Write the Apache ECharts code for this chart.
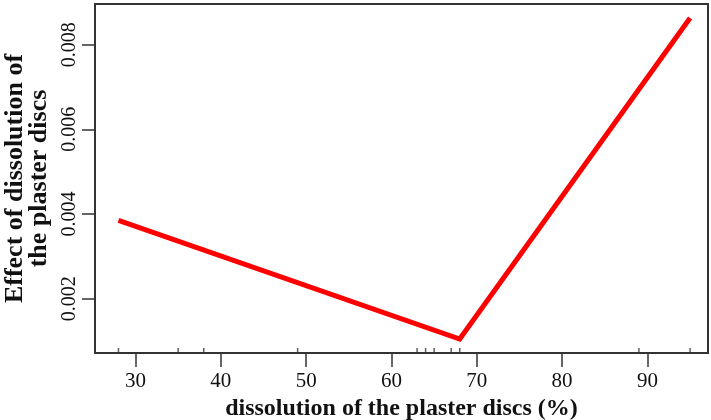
<!DOCTYPE html>
<html>
<head>
<meta charset="utf-8">
<script src="https://cdn.jsdelivr.net/npm/echarts@6/dist/echarts.min.js"></script>
<style>
  html, body { margin: 0; padding: 0; background: #fff; }
  #chart { width: 711px; height: 420px; }
</style>
</head>
<body>
<div id="chart"></div>
<script>
// fitted segmented line (x = dissolution %, y = effect)
const lineX = [28, 68, 95];
const lineY = [0.00385, 0.00105, 0.00863];
// observed x values shown as a rug along the bottom axis
const rugX = [28, 35, 38, 49, 63, 64, 65, 67, 68, 89, 95];
const xTicks = [30, 40, 50, 60, 70, 80, 90];
const yTicks = [0.002, 0.004, 0.006, 0.008];

const X_MIN = 25.25, X_MAX = 97.1;
const Y_MIN = 0.00072, Y_MAX = 0.00896;

const serif = "Liberation Serif";
const axisColor = "#333";

const chart = echarts.init(document.getElementById("chart"));

const option = {
  animation: false,
  backgroundColor: "#fff",
  grid: {
    left: 95, right: 3, top: 4, bottom: 67,
    outerBoundsMode: "none",
    containLabel: false,
    show: true, borderColor: axisColor, borderWidth: 2
  },
  xAxis: {
    type: "value",
    min: X_MIN, max: X_MAX,
    name: "dissolution of the plaster discs (%)",
    nameLocation: "middle",
    nameGap: 43,
    nameTextStyle: { fontFamily: serif, fontWeight: "bold", fontSize: 24, color: "#111" },
    axisLine: { show: true, lineStyle: { color: axisColor, width: 2 } },
    axisTick: { show: true, length: 14, customValues: xTicks, lineStyle: { color: axisColor, width: 1.5 } },
    axisLabel: { customValues: xTicks, margin: 18, fontFamily: serif, fontSize: 21, color: "#111" },
    splitLine: { show: false }
  },
  yAxis: {
    type: "value",
    min: Y_MIN, max: Y_MAX,
    name: "Effect of dissolution of\nthe plaster discs",
    nameLocation: "middle",
    nameGap: 44,
    nameTextStyle: { fontFamily: serif, fontWeight: "bold", fontSize: 26, lineHeight: 24, color: "#111" },
    axisLine: { show: true, lineStyle: { color: axisColor, width: 2 } },
    axisTick: { show: true, length: 13, customValues: yTicks, lineStyle: { color: axisColor, width: 1.5 } },
    axisLabel: {
      customValues: yTicks, rotate: 90, margin: 15,
      fontFamily: serif, fontSize: 20, color: "#111",
      formatter: (v) => v.toFixed(3)
    },
    splitLine: { show: false }
  },
  series: [
    {
      type: "scatter",
      data: rugX.map((x) => [x, Y_MIN]),
      symbol: "rect",
      symbolSize: [1.5, 5],
      symbolOffset: [0, -2.5],
      itemStyle: { color: axisColor },
      silent: true,
      z: 1
    },
    {
      type: "line",
      data: lineX.map((x, i) => [x, lineY[i]]),
      showSymbol: false,
      lineStyle: { color: "#ff0000", width: 5, cap: "butt", join: "miter" },
      z: 3
    }
  ]
};

chart.setOption(option, true);
window.onresize = function () {
  chart.resize();
};
</script>
</body>
</html>
